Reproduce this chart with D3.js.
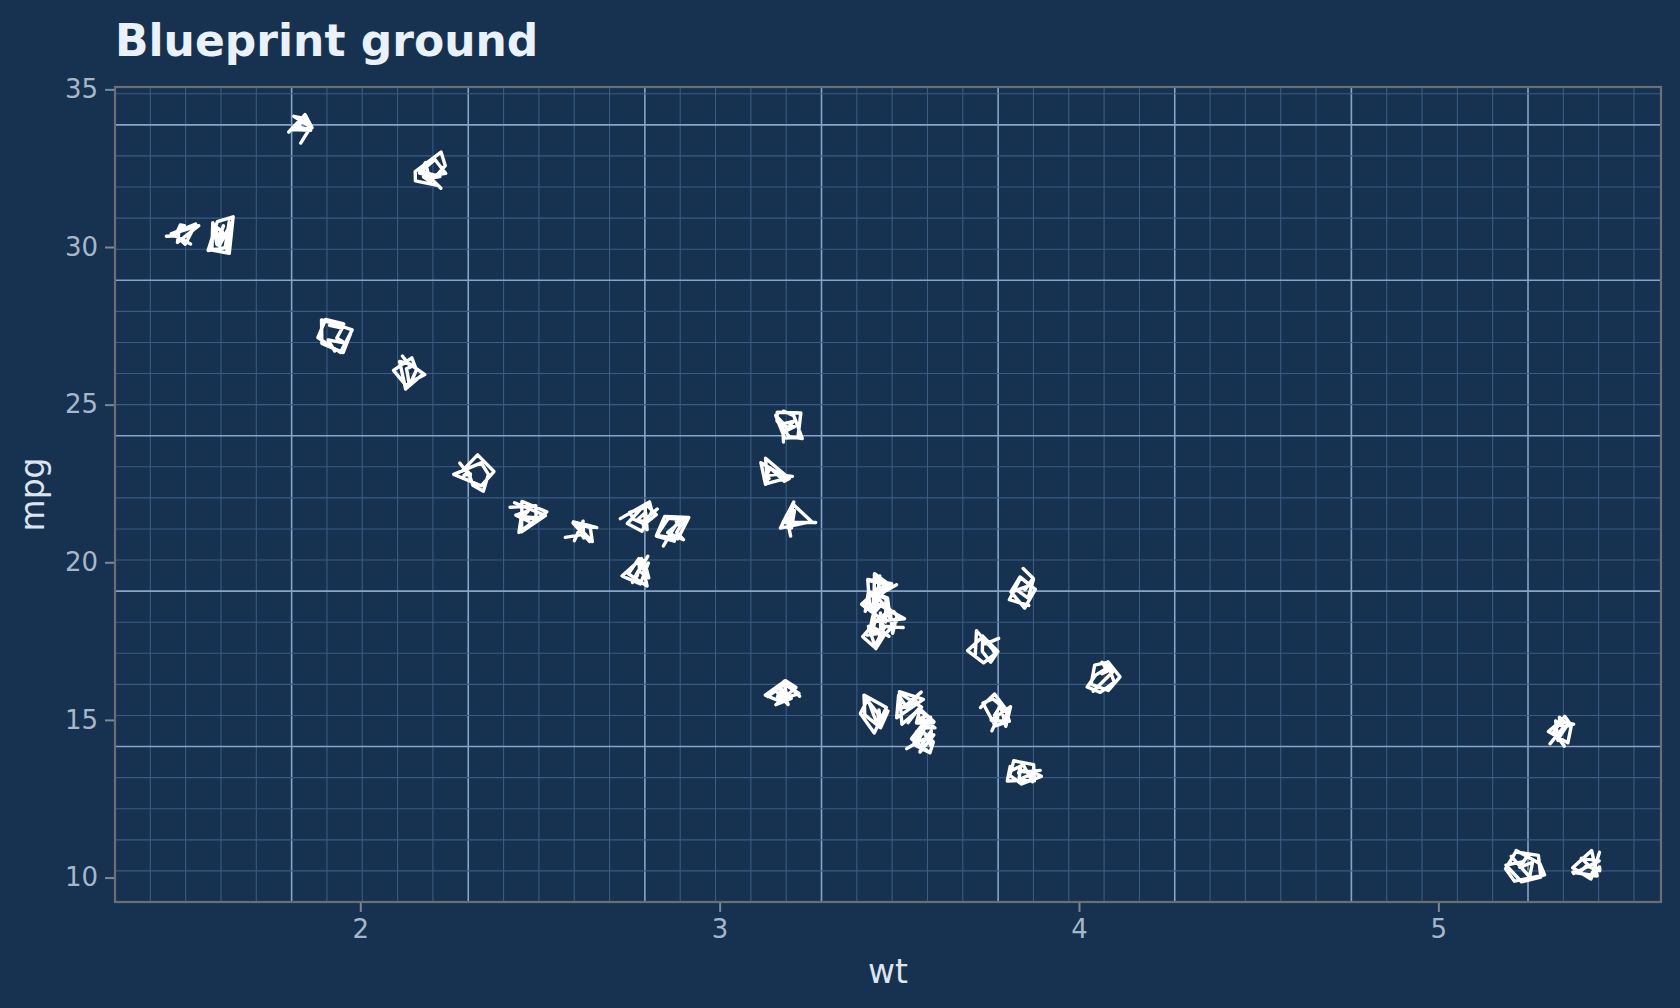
<!DOCTYPE html>
<html>
<head>
<meta charset="utf-8">
<script src="https://cdn.jsdelivr.net/npm/d3@7"></script>
<style>
  html, body { margin: 0; padding: 0; background: #173150; }
  svg { display: block; }
</style>
</head>
<body>
<svg id="chart" width="1680" height="1008"></svg>
<script>
"use strict";

// mtcars: weight (1000 lbs) and miles per gallon
let wt = [2.620, 2.875, 2.320, 3.215, 3.440, 3.460, 3.570, 3.190, 3.150, 3.440, 3.440,
  4.070, 3.730, 3.780, 5.250, 5.424, 5.345, 2.200, 1.615, 1.835, 2.465, 3.520,
  3.435, 3.840, 3.845, 1.935, 2.140, 1.513, 3.170, 2.770, 3.570, 2.780];
let mpg = [21.0, 21.0, 22.8, 21.4, 18.7, 18.1, 14.3, 24.4, 22.8, 19.2, 17.8,
  16.4, 17.3, 15.2, 10.4, 10.4, 14.7, 32.4, 30.4, 33.9, 21.5, 15.5,
  15.2, 13.3, 19.2, 27.3, 26.0, 30.4, 15.8, 19.7, 15.0, 21.4];

let xTicks = [2, 3, 4, 5];
let yTicks = [10, 15, 20, 25, 30, 35];

let W = 1680, H = 1008;
let margin = { top: 87, right: 19, bottom: 106, left: 115 };

let svg = d3.select("#chart");

// ggplot style 5% expansion
function expand(ext) {
  let pad = (ext[1] - ext[0]) * 0.05;
  return [ext[0] - pad, ext[1] + pad];
}

let x = d3.scaleLinear().domain(expand(d3.extent(wt))).range([margin.left, W - margin.right]);
let y = d3.scaleLinear().domain(expand(d3.extent(mpg))).range([H - margin.bottom, margin.top]);

// blueprint grid, anchored at the bottom left of the panel
let gridStepX = 0.0983, gridStepY = 0.986;
let gx = d3.range(1, Math.floor((x.domain()[1] - x.domain()[0]) / gridStepX) + 1);
let gy = d3.range(1, Math.floor((y.domain()[1] - y.domain()[0]) / gridStepY) + 1);

let grid = svg.append("g");
grid.selectAll("line.vx").data(gx).enter().append("line")
  .attr("x1", k => x(x.domain()[0] + k * gridStepX)).attr("x2", k => x(x.domain()[0] + k * gridStepX))
  .attr("y1", y.range()[1]).attr("y2", y.range()[0])
  .attr("stroke", k => k % 5 === 0 ? "#86a6c9" : "#3a5c83")
  .attr("stroke-width", k => k % 5 === 0 ? 1.6 : 1.1);
grid.selectAll("line.hy").data(gy).enter().append("line")
  .attr("y1", k => y(y.domain()[0] + k * gridStepY)).attr("y2", k => y(y.domain()[0] + k * gridStepY))
  .attr("x1", x.range()[0]).attr("x2", x.range()[1])
  .attr("stroke", k => k % 5 === 0 ? "#86a6c9" : "#3a5c83")
  .attr("stroke-width", k => k % 5 === 0 ? 1.6 : 1.1);

// panel border
svg.append("rect")
  .attr("x", x.range()[0]).attr("y", y.range()[1])
  .attr("width", x.range()[1] - x.range()[0]).attr("height", y.range()[0] - y.range()[1])
  .attr("fill", "none").attr("stroke", "#6b6f75").attr("stroke-width", 2.2);

// axes
let xAxis = svg.append("g")
  .attr("transform", `translate(0,${y.range()[0] + 1})`)
  .call(d3.axisBottom(x).tickValues(xTicks).tickSize(9).tickPadding(8).tickFormat(d3.format("d")));
let yAxis = svg.append("g")
  .attr("transform", `translate(${x.range()[0] - 1},0)`)
  .call(d3.axisLeft(y).tickValues(yTicks).tickSize(9).tickPadding(7).tickFormat(d3.format("d")));

[xAxis, yAxis].forEach(a => {
  a.select(".domain").remove();
  a.selectAll(".tick line").attr("stroke", "#7d8896").attr("stroke-width", 2);
  a.selectAll(".tick text")
    .attr("fill", "#a7b7ca")
    .style("font-family", "'DejaVu Sans', sans-serif")
    .style("font-size", "26px");
});

// scribble markers: deterministic jitter so every render looks the same
function mulberry32(a) {
  return function () {
    a |= 0; a = a + 0x6D2B79F5 | 0;
    let t = Math.imul(a ^ a >>> 15, 1 | a);
    t = t + Math.imul(t ^ t >>> 7, 61 | t) ^ t;
    return ((t ^ t >>> 14) >>> 0) / 4294967296;
  };
}
let rnd = mulberry32(7731);

// hand sketched polygon: a wobbly outline gone over twice, scrawled inside, with a stray flick
function scribble() {
  let sides = 3 + Math.floor(rnd() * 3);
  let rot = rnd() * Math.PI * 2;
  let corners = d3.range(sides).map(s => {
    let a = rot + s * 2 * Math.PI / sides + (rnd() - 0.5) * 0.8;
    let r = 10 + rnd() * 8;
    return [Math.cos(a) * r, Math.sin(a) * r];
  });
  let pts = [];
  for (let pass = 0; pass < 2; pass++) {
    corners.forEach(c => pts.push([c[0] + (rnd() - 0.5) * 10, c[1] + (rnd() - 0.5) * 10]));
  }
  let inner = 5 + Math.floor(rnd() * 5);
  for (let i = 0; i < inner; i++) {
    let a = rnd() * Math.PI * 2, r = 2 + rnd() * 12;
    pts.push([Math.cos(a) * r, Math.sin(a) * r]);
  }
  let a = rnd() * Math.PI * 2;
  pts.push([Math.cos(a) * 19, Math.sin(a) * 19]);
  return d3.line()(pts);
}

svg.append("g").selectAll("path").data(wt).enter().append("path")
  .attr("transform", (d, i) => `translate(${x(d)},${y(mpg[i])})`)
  .attr("d", () => scribble())
  .attr("fill", "none")
  .attr("stroke", "#ffffff")
  .attr("stroke-width", 3.4)
  .attr("stroke-linejoin", "round")
  .attr("stroke-linecap", "round");

// titles
svg.append("text")
  .attr("x", x.range()[0]).attr("y", 56)
  .attr("fill", "#e9f1fb")
  .style("font-family", "'DejaVu Sans', sans-serif")
  .style("font-weight", "bold")
  .style("font-size", "44px")
  .text("Blueprint ground");

svg.append("text")
  .attr("x", (x.range()[0] + x.range()[1]) / 2).attr("y", 983)
  .attr("text-anchor", "middle")
  .attr("fill", "#dce5ef")
  .style("font-family", "'DejaVu Sans', sans-serif")
  .style("font-size", "33px")
  .text("wt");

svg.append("text")
  .attr("transform", `translate(44,${(y.range()[0] + y.range()[1]) / 2}) rotate(-90)`)
  .attr("text-anchor", "middle")
  .attr("fill", "#dce5ef")
  .style("font-family", "'DejaVu Sans', sans-serif")
  .style("font-size", "33px")
  .text("mpg");
</script>
</body>
</html>
